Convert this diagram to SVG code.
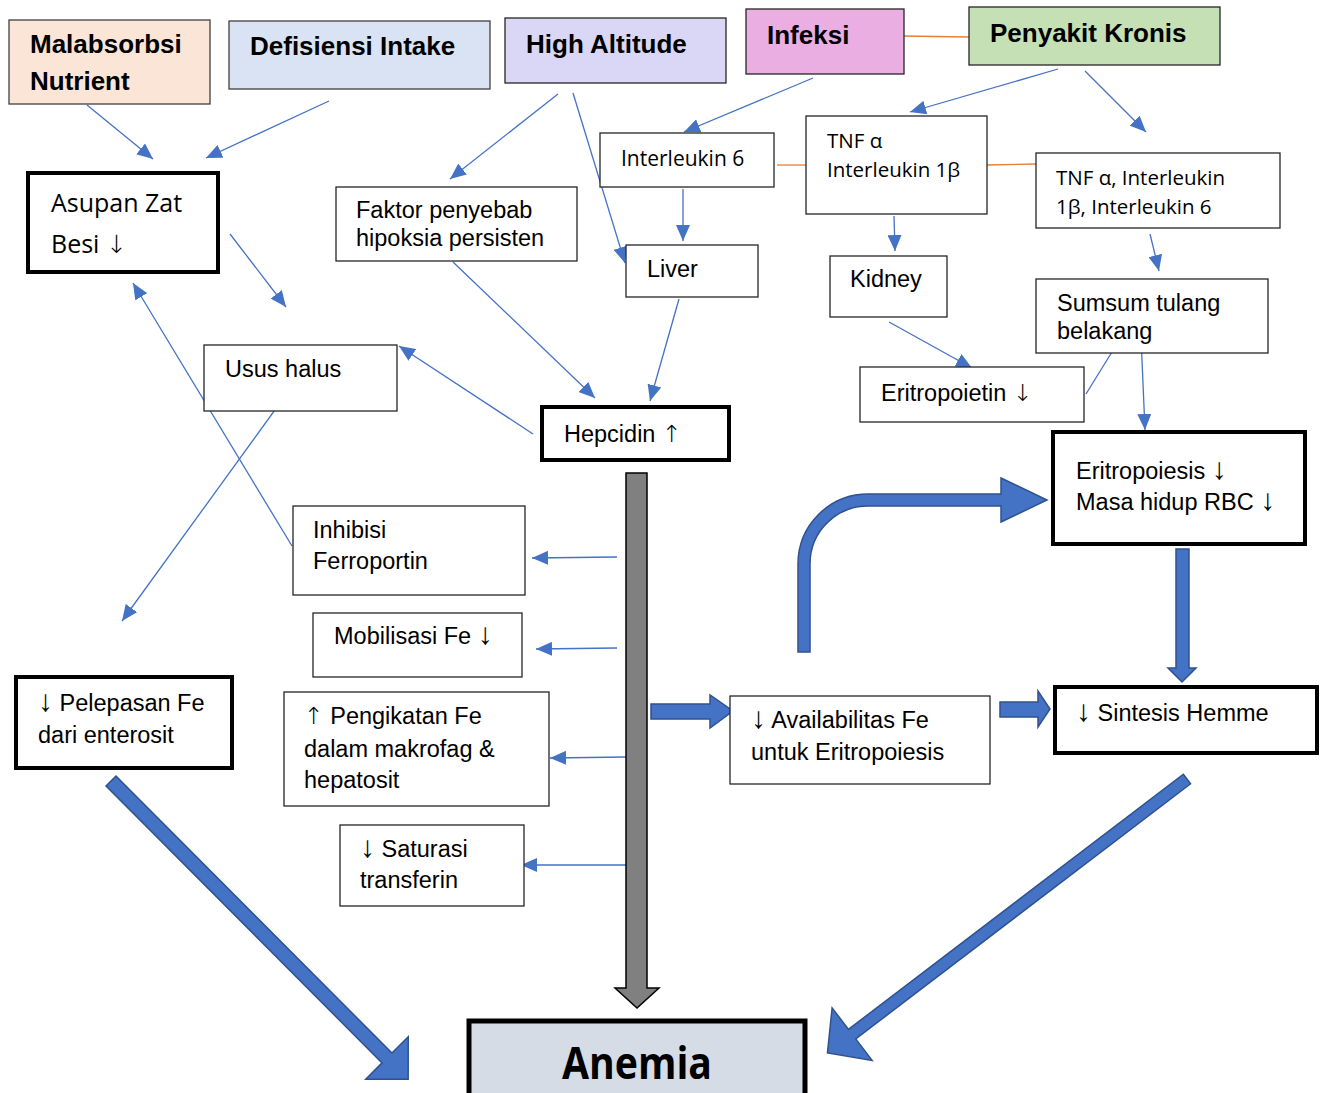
<svg xmlns="http://www.w3.org/2000/svg" width="1326" height="1093" viewBox="0 0 1326 1093">
<defs>
<style>
.box{fill:#fff;stroke:#262626;stroke-width:1.3}
.thick{fill:#fff;stroke:#000;stroke-width:4}
.t{font-family:"Liberation Sans",Arial,sans-serif;font-size:23.5px;fill:#000}
.o{font-family:"Open Sans","Noto Sans",sans-serif;fill:#000}
.b{font-family:"Liberation Sans",Arial,sans-serif;font-size:26px;font-weight:bold;fill:#000}
.ar{font-family:"DejaVu Sans",sans-serif;font-weight:200}
.ta{font-family:"Liberation Sans",Arial,sans-serif;font-size:30px}
.c{fill:none;stroke:#4472c4;stroke-width:1.3;marker-end:url(#ah)}
.or{fill:none;stroke:#ed7d31;stroke-width:1.3}
.big{fill:#4472c4;stroke:#2f528f;stroke-width:1.5}
</style>
<marker id="ah" markerUnits="userSpaceOnUse" markerWidth="17" markerHeight="14" refX="16" refY="7" orient="auto">
<path d="M0,0 L16,7 L0,14 z" fill="#4472c4"/>
</marker>
</defs>
<rect width="1326" height="1093" fill="#fff"/>

<g id="connectors">
<line class="c" x1="87" y1="105" x2="153" y2="159"/>
<line class="c" x1="329" y1="101" x2="206" y2="158"/>
<line class="c" x1="558" y1="94" x2="450" y2="179"/>
<line class="c" x1="573" y1="93" x2="625" y2="263"/>
<line class="c" x1="813" y1="78" x2="684" y2="132"/>
<line class="c" x1="1058" y1="69" x2="910" y2="112"/>
<line class="c" x1="1085" y1="71" x2="1146" y2="132"/>
<line class="or" x1="777" y1="165" x2="807" y2="165"/>
<line class="or" x1="987" y1="165" x2="1036" y2="164"/>
<line class="or" x1="903" y1="36" x2="969" y2="37"/>
<line class="c" x1="683" y1="189" x2="683" y2="241"/>
<line class="c" x1="894" y1="216" x2="895" y2="251"/>
<line class="c" x1="1150" y1="234" x2="1159" y2="271"/>
<line class="c" x1="889" y1="322" x2="972" y2="368"/>
<line class="c" x1="1086" y1="394" x2="1128" y2="326"/>
<line class="c" x1="1141" y1="337" x2="1145" y2="430"/>
<line class="c" x1="230" y1="234" x2="286" y2="307"/>
<line class="c" x1="453" y1="262" x2="595" y2="398"/>
<line class="c" x1="679" y1="299" x2="650" y2="401"/>
<line class="c" x1="533" y1="434" x2="399" y2="346"/>
<line class="c" x1="292" y1="546" x2="133" y2="283"/>
<line class="c" x1="293" y1="385" x2="122" y2="621"/>
<line class="c" x1="617" y1="557" x2="532" y2="558"/>
<line class="c" x1="617" y1="648" x2="536" y2="649"/>
<line class="c" x1="626" y1="757" x2="550" y2="758"/>
<line class="c" x1="626" y1="865" x2="521" y2="865"/>

<polygon points="626,473 647,473 647,988 659,988 637,1008 615,988 626,988" fill="#808080" stroke="#000" stroke-width="1.5"/>
<polygon class="big" points="651,704 710,704 710,695 733,711 710,728 710,719 651,719"/>
<polygon class="big" points="1000,702 1038,702 1038,691 1050,709 1038,727 1038,717 1000,717"/>
<polygon class="big" points="1176,549 1189,549 1189,668 1196,668 1182,682 1168,668 1176,668"/>
<path class="big" d="M798,652 L798,564 A70,70 0 0 1 868,494 L1001,494 L1001,478 L1047,500 L1001,522 L1001,506 L868,506 A58,58 0 0 0 810,564 L810,652 Z"/>
<polygon class="big" transform="translate(111,781) rotate(45.1)" points="0,-7 391,-7 391,-30 421,0 391,30 391,7 0,7"/>
<polygon class="big" transform="translate(1187,779) rotate(142.7)" points="0,-6 421,-6 421,-33 452,0 421,33 421,6 0,6"/>
</g>

<g id="malabsorbsi"><rect x="9" y="20" width="201" height="84" fill="#fbe5d6" stroke="#404040" stroke-width="1.3"/><text class="b" x="30" y="53">Malabsorbsi</text><text class="b" x="30" y="90">Nutrient</text></g>
<g id="defisiensi"><rect x="229" y="21" width="261" height="68" fill="#dae3f3" stroke="#404040" stroke-width="1.3"/><text class="b" x="250" y="55">Defisiensi Intake</text></g>
<g id="high-altitude"><rect x="505" y="18" width="221" height="65" fill="#d9d7f5" stroke="#262626" stroke-width="1.3"/><text class="b" x="526" y="53">High Altitude</text></g>
<g id="infeksi"><rect x="746" y="9" width="158" height="65" fill="#eaaee3" stroke="#262626" stroke-width="1.3"/><text class="b" x="767" y="44">Infeksi</text></g>
<g id="penyakit-kronis"><rect x="969" y="7" width="251" height="58" fill="#c5e0b4" stroke="#262626" stroke-width="1.3"/><text class="b" x="990" y="42">Penyakit Kronis</text></g>

<g id="asupan"><rect class="thick" x="28" y="173" width="190" height="99"/><text class="o" font-size="25" x="51" y="212">Asupan Zat</text><text class="o" font-size="25" x="51" y="253">Besi <tspan class="ar">↓</tspan></text></g>
<g id="faktor"><rect class="box" x="336" y="187" width="241" height="74"/><text class="t" x="356" y="218">Faktor penyebab</text><text class="t" x="356" y="246">hipoksia persisten</text></g>
<g id="interleukin6"><rect class="box" x="600" y="133" width="174" height="54"/><text class="o" font-size="21" x="621" y="166">Interleukin 6</text></g>
<g id="tnf1"><rect class="box" x="806" y="116" width="181" height="98"/><text class="o" font-size="20.5" x="827" y="148">TNF α</text><text class="o" font-size="20.5" x="827" y="177">Interleukin 1β</text></g>
<g id="tnf2"><rect class="box" x="1036" y="153" width="244" height="75"/><text class="o" font-size="20.5" x="1056" y="185">TNF α, Interleukin</text><text class="o" font-size="20.5" x="1056" y="214">1β, Interleukin 6</text></g>
<g id="liver"><rect class="box" x="626" y="245" width="132" height="52"/><text class="t" x="647" y="277">Liver</text></g>
<g id="kidney"><rect class="box" x="830" y="256" width="117" height="61"/><text class="t" x="850" y="287">Kidney</text></g>
<g id="sumsum"><rect class="box" x="1036" y="279" width="232" height="74"/><text class="t" x="1057" y="311">Sumsum tulang</text><text class="t" x="1057" y="339">belakang</text></g>
<g id="eritropoietin"><rect class="box" x="860" y="367" width="224" height="55"/><text class="t" x="881" y="401">Eritropoietin <tspan class="ar">↓</tspan></text></g>
<g id="usus"><rect class="box" x="204" y="345" width="193" height="66"/><text class="t" x="225" y="377">Usus halus</text></g>
<g id="hepcidin"><rect class="thick" x="542" y="407" width="187" height="53"/><text class="t" x="564" y="442">Hepcidin <tspan class="ar">↑</tspan></text></g>
<g id="eritropoiesis"><rect class="thick" x="1053" y="432" width="252" height="112"/><text class="t" x="1076" y="479">Eritropoiesis <tspan class="ta">↓</tspan></text><text class="t" x="1076" y="510">Masa hidup RBC <tspan class="ta">↓</tspan></text></g>
<g id="inhibisi"><rect class="box" x="293" y="506" width="232" height="89"/><text class="t" x="313" y="538">Inhibisi</text><text class="t" x="313" y="569">Ferroportin</text></g>
<g id="mobilisasi"><rect class="box" x="313" y="613" width="209" height="64"/><text class="t" x="334" y="644">Mobilisasi Fe <tspan class="ta">↓</tspan></text></g>
<g id="pelepasan"><rect class="thick" x="16" y="677" width="216" height="91"/><text class="t" x="38" y="711"><tspan class="ta">↓</tspan> Pelepasan Fe</text><text class="t" x="38" y="743">dari enterosit</text></g>
<g id="pengikatan"><rect class="box" x="284" y="692" width="265" height="114"/><text class="t" x="304" y="724"><tspan class="ar">↑</tspan> Pengikatan Fe</text><text class="t" x="304" y="757">dalam makrofag &amp;</text><text class="t" x="304" y="788">hepatosit</text></g>
<g id="saturasi"><rect class="box" x="340" y="825" width="184" height="81"/><text class="t" x="360" y="857"><tspan class="ta">↓</tspan> Saturasi</text><text class="t" x="360" y="888">transferin</text></g>
<g id="availabilitas"><rect class="box" x="730" y="696" width="260" height="88"/><text class="t" x="751" y="728"><tspan class="ta">↓</tspan> Availabilitas Fe</text><text class="t" x="751" y="760">untuk Eritropoiesis</text></g>
<g id="sintesis"><rect class="thick" x="1055" y="687" width="262" height="66"/><text class="t" x="1076" y="721"><tspan class="ta">↓</tspan> Sintesis Hemme</text></g>
<g id="anemia"><rect x="469" y="1021" width="336" height="80" fill="#d6dce5" stroke="#000" stroke-width="5"/><text class="o" font-size="44" font-weight="bold" x="562" y="1079" textLength="150" lengthAdjust="spacingAndGlyphs">Anemia</text></g>
</svg>
